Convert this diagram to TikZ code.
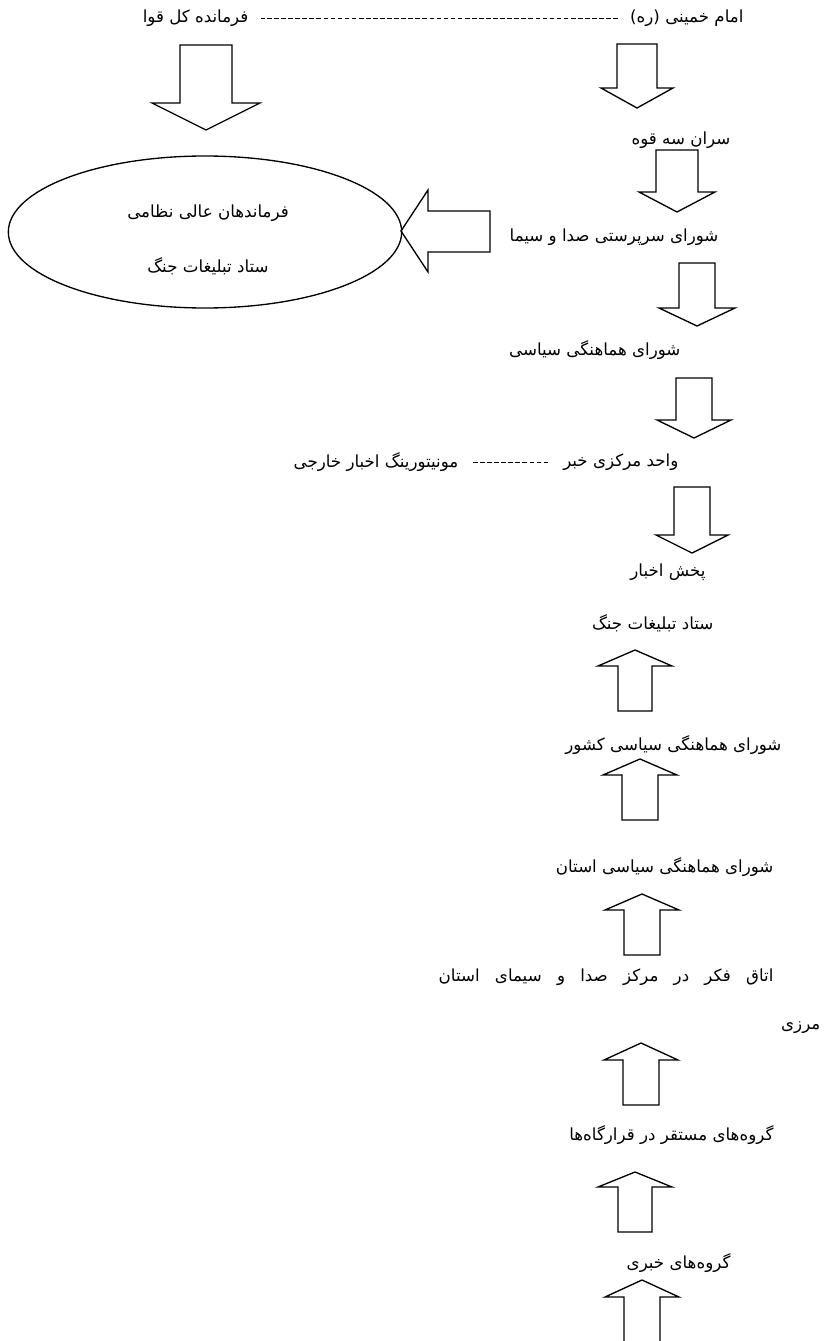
\documentclass[tikz,border=0pt]{standalone}
\usepackage{fontspec}
\newfontfamily\farsi[Script=Arabic]{DejaVu Sans}
\TeXXeTstate=1
\usetikzlibrary{shapes.geometric}

% block arrow: centre x, tail y, head base y, tip y, half shaft, half head
\newcommand{\blockarrow}[6]{%
  \draw[block] ({#1-#5},#2) -- ({#1-#5},#3) -- ({#1-#6},#3) -- (#1,#4)
    -- ({#1+#6},#3) -- ({#1+#5},#3) -- ({#1+#5},#2) -- cycle;}

\begin{document}
\begin{tikzpicture}[x=0.75pt, y=-0.75pt,
    orgtext/.style={font=\farsi\fontsize{12.5}{15}\selectfont, inner sep=1pt},
    block/.style={draw, line width=1pt, line join=miter},
    dashline/.style={line width=0.6pt, dash pattern=on 3.5pt off 1.8pt},
    council/.style={ellipse, draw, line width=1pt, minimum width=295pt, minimum height=114pt}
  ]
  \useasboundingbox (0,0) rectangle (825,1341);

  % top row
  \node[orgtext, anchor=east] (imam) at (745,18) {\beginR امام خمینی (ره)\endR};
  \node[orgtext, anchor=east] (farmandeh) at (250,18) {\beginR فرمانده کل قوا\endR};
  \draw[dashline, shorten <=8pt, shorten >=8pt] (imam) -- (farmandeh);

  % left side
  \blockarrow{206}{45}{103}{130}{26}{54}
  \node[council] (council) at (205,232) {};
  \node[orgtext] (amali) at (208,213) {\beginR فرماندهان عالی نظامی\endR};
  \node[orgtext] (setadleft) at (208,266) {\beginR ستاد تبلیغات جنگ\endR};
  \draw[block] (490,211) -- (428,211) -- (428,190) -- (401,231) -- (428,272)
    -- (428,252) -- (490,252) -- cycle;

  % downward chain
  \blockarrow{637}{44}{88}{108}{20}{36}
  \node[orgtext, anchor=east] (saran) at (732,140) {\beginR سران سه قوه\endR};
  \blockarrow{677}{150}{192}{212}{21}{38}
  \node[orgtext, anchor=east] (sarparasti) at (720,237) {\beginR شورای سرپرستی صدا و سیما\endR};
  \blockarrow{697}{263}{308}{326}{18}{38}
  \node[orgtext, anchor=east] (hamahangi) at (682,350) {\beginR شورای هماهنگی سیاسی\endR};
  \blockarrow{694}{378}{420}{438}{18}{37}
  \node[orgtext, anchor=east] (vahed) at (680,462) {\beginR واحد مرکزی خبر\endR};
  \node[orgtext, anchor=east] (monitoring) at (460,462) {\beginR مونیتورینگ اخبار خارجی\endR};
  \draw[dashline, shorten <=10pt, shorten >=8pt] (vahed) -- (monitoring);
  \blockarrow{692}{487}{535}{553}{18}{36}
  \node[orgtext, anchor=east] (pakhsh) at (707,572) {\beginR پخش اخبار\endR};

  % upward chain
  \node[orgtext, anchor=east] (setad) at (715,623) {\beginR ستاد تبلیغات جنگ\endR};
  \blockarrow{635}{711}{666}{650}{17}{37}
  \node[orgtext, anchor=east] (keshvar) at (783,745) {\beginR شورای هماهنگی سیاسی کشور\endR};
  \blockarrow{640}{820}{775}{759}{18}{37}
  \node[orgtext, anchor=east] (ostan) at (775,867) {\beginR شورای هماهنگی سیاسی استان\endR};
  \blockarrow{642}{955}{910}{894}{18}{37}
  \node[orgtext, anchor=east] (otagh) at (775,977)
    {\makebox[251pt][s]{\beginR اتاق فکر در مرکز صدا و سیمای استان\endR}};
  \node[orgtext, anchor=east] (marzi) at (822,1028) {\beginR مرزی\endR};
  \blockarrow{641}{1105}{1060}{1043}{18}{37}
  \node[orgtext, anchor=east] (mostaqar) at (775,1135) {\beginR گروه‌های مستقر در قرارگاه‌ها\endR};
  \blockarrow{635}{1232}{1187}{1172}{17}{37}
  \node[orgtext, anchor=east] (khabari) at (732,1263) {\beginR گروه‌های خبری\endR};
  \draw[block] (624,1341) -- (624,1297) -- (605,1297) -- (642,1280) -- (679,1297)
    -- (660,1297) -- (660,1341);
\end{tikzpicture}
\end{document}
